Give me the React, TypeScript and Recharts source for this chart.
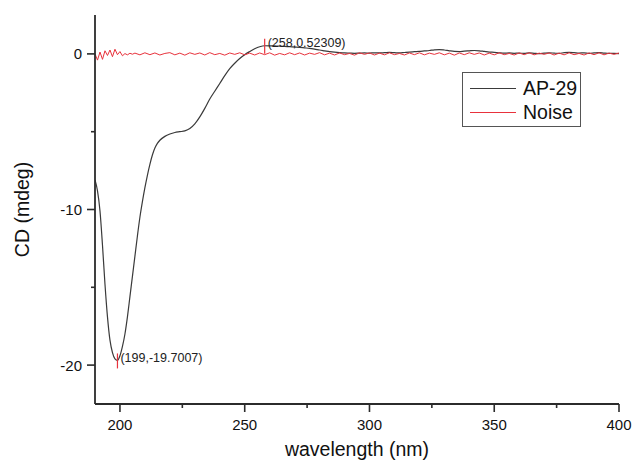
import React from 'react';
import { LineChart, Line, XAxis, YAxis, ReferenceDot, Legend } from 'recharts';

// AP-29 CD spectrum: [wavelength (nm), CD (mdeg)]
const apCurve: [number, number][] = [
  [190, -8.1], [191, -8.8], [192, -10.1], [193, -12.3], [194, -14.8], [195, -16.9], [196, -18.4],
  [197, -19.2], [198, -19.6], [199, -19.7007], [200, -19.4], [201, -18.8], [202, -18.0], [203, -16.9],
  [204, -15.6], [205, -14.3], [206, -13.0], [207, -11.7], [208, -10.5], [209, -9.5], [210, -8.6],
  [211, -7.8], [212, -7.1], [213, -6.5], [214, -6.05], [215, -5.75], [216, -5.55],
  [218, -5.3], [220, -5.15], [222, -5.05], [224, -5.0], [226, -4.95], [228, -4.8], [230, -4.5],
  [232, -4.05], [234, -3.5], [236, -2.9], [238, -2.4], [240, -1.9], [242, -1.4], [244, -0.95],
  [246, -0.6], [248, -0.3], [250, -0.05], [252, 0.15], [254, 0.33], [256, 0.46], [258, 0.52309],
  [260, 0.52], [262, 0.51], [264, 0.5], [266, 0.48], [268, 0.46], [270, 0.44], [272, 0.42],
  [274, 0.39], [276, 0.36], [278, 0.31], [280, 0.25], [282, 0.2], [284, 0.15], [286, 0.11],
  [288, 0.08], [290, 0.06], [292, 0.05], [294, 0.04], [296, 0.05], [298, 0.06], [300, 0.05],
  [302, 0.07], [304, 0.06], [306, 0.08], [308, 0.1], [310, 0.08], [312, 0.06], [314, 0.09],
  [316, 0.12], [318, 0.14], [320, 0.16], [322, 0.19], [324, 0.22], [326, 0.26], [328, 0.28],
  [330, 0.25], [332, 0.2], [334, 0.16], [336, 0.15], [338, 0.18], [340, 0.2], [342, 0.22],
  [344, 0.2], [346, 0.16], [348, 0.12], [350, 0.1], [352, 0.07], [354, 0.05], [356, 0.06],
  [358, 0.04], [360, 0.05], [362, 0.03], [364, 0.06], [366, 0.04], [368, 0.02], [370, 0.05],
  [372, 0.07], [374, 0.05], [376, 0.03], [378, 0.08], [380, 0.1], [382, 0.08], [384, 0.05],
  [386, 0.07], [388, 0.04], [390, 0.06], [392, 0.08], [394, 0.05], [396, 0.03], [398, 0.04],
  [400, 0.02],
];

// Noise baseline: [wavelength (nm), CD (mdeg)]
const noiseCurve: [number, number][] = [
  [190, 0.0], [191, -0.4], [192, 0.12], [193, -0.35], [194, 0.2], [195, -0.1], [196, 0.25],
  [197, -0.18], [198, 0.3], [199, -0.05], [200, 0.15], [201, -0.12], [202, 0.02], [203, -0.06],
  [204, 0.04], [205, -0.02],
  [206, 0.05], [208, -0.06], [210, 0.07], [212, -0.05], [214, 0.06], [216, -0.07], [218, 0.03],
  [220, 0.08], [222, -0.06], [224, 0.05], [226, -0.08], [228, 0.07], [230, -0.03], [232, 0.06],
  [234, -0.07], [236, 0.08], [238, -0.05], [240, 0.03], [242, -0.08], [244, 0.06], [246, -0.03],
  [248, 0.07], [250, -0.06], [252, 0.05], [254, -0.07], [256, 0.06], [258, -0.05], [260, 0.07],
  [262, -0.08], [264, 0.03], [266, -0.06], [268, 0.07], [270, -0.05], [272, 0.06], [274, -0.07],
  [276, 0.05], [278, -0.03], [280, 0.08], [282, -0.06], [284, 0.05], [286, -0.07], [288, 0.06],
  [290, -0.05], [292, 0.03], [294, -0.08], [296, 0.07], [298, -0.03], [300, 0.06], [302, -0.07],
  [304, 0.05], [306, -0.06], [308, 0.07], [310, -0.05], [312, 0.03], [314, -0.07], [316, 0.06],
  [318, -0.05], [320, 0.07], [322, -0.06], [324, 0.05], [326, -0.03], [328, 0.07], [330, -0.06],
  [332, 0.05], [334, -0.08], [336, 0.06], [338, -0.05], [340, 0.07], [342, -0.03], [344, 0.06],
  [346, -0.07], [348, 0.05], [350, -0.06], [352, 0.07], [354, -0.05], [356, 0.03], [358, -0.07],
  [360, 0.06], [362, -0.05], [364, 0.07], [366, -0.06], [368, 0.05], [370, -0.03], [372, 0.06],
  [374, -0.07], [376, 0.05], [378, -0.06], [380, 0.07], [382, -0.05], [384, 0.03], [386, -0.07],
  [388, 0.06], [390, -0.05], [392, 0.07], [394, -0.06], [396, 0.05], [398, -0.03], [400, 0.06],
];

const annotations = [
  { wl: 199, v: -19.7007, text: '(199,-19.7007)' },
  { wl: 258, v: 0.52309, text: '(258,0.52309)' },
];

const xTicks = [200, 225, 250, 275, 300, 325, 350, 375, 400];
const xMajor = [200, 250, 300, 350, 400];
const yTicks = [-20, -15, -10, -5, 0];
const yMajor = [-20, -10, 0];

const series = [
  { name: 'AP-29', color: '#3a3a3a', points: apCurve },
  { name: 'Noise', color: '#e8323c', points: noiseCurve },
];

const FONT = '"Liberation Sans", Arial, sans-serif';
const AXIS = '#2b2b2b';

const YTick = (props: any) => {
  const { x, y, payload } = props;
  const major = yMajor.includes(payload.value);
  return (
    <g>
      <line x1={x - (major ? 8 : 4)} x2={x} y1={y} y2={y} stroke={AXIS} strokeWidth={1.6} />
      {major && (
        <text x={x - 13} y={y + 5.5} textAnchor="end" fontSize={15} fill="#111" fontFamily={FONT}>
          {payload.value}
        </text>
      )}
    </g>
  );
};

const XTick = (props: any) => {
  const { x, y, payload } = props;
  const major = xMajor.includes(payload.value);
  return (
    <g>
      <line x1={x} x2={x} y1={y} y2={y + (major ? 8 : 4)} stroke={AXIS} strokeWidth={1.6} />
      {major && (
        <text x={x} y={y + 26} textAnchor="middle" fontSize={15} fill="#111" fontFamily={FONT}>
          {payload.value}
        </text>
      )}
    </g>
  );
};

const AnnotationShape = (text: string) => (props: any) => {
  const { cx, cy } = props;
  return (
    <g>
      <line x1={cx} x2={cx} y1={cy - 7} y2={cy + 8} stroke="#e8323c" strokeWidth={1.2} />
      <text x={cx + 3} y={cy + 1.5} fontSize={12.5} fill="#222" fontFamily={FONT}>
        {text}
      </text>
    </g>
  );
};

const LegendBox = () => (
  <div
    style={{
      border: '1.5px solid #555',
      width: 119,
      height: 55,
      boxSizing: 'border-box',
      background: '#fff',
      fontFamily: FONT,
      fontSize: 19.5,
      color: '#111',
      padding: '3px 0 0 7px',
    }}
  >
    {series.map((s) => (
      <div key={s.name} style={{ display: 'flex', alignItems: 'center', height: 24 }}>
        <div style={{ width: 46, height: 0, borderTop: `1.2px solid ${s.color}`, marginRight: 7 }} />
        <span>{s.name}</span>
      </div>
    ))}
  </div>
);

export default function App() {
  const apData = apCurve.map(([wl, v]) => ({ wl, v }));
  const noiseData = noiseCurve.map(([wl, v]) => ({ wl, v }));
  return (
    <div style={{ position: 'absolute', left: 0, top: 0, background: '#fff', fontFamily: FONT }}>
      <LineChart width={635} height={468} margin={{ top: 15, right: 16, bottom: 0, left: 0 }}>
        <XAxis
          dataKey="wl"
          type="number"
          domain={[190, 400]}
          ticks={xTicks}
          interval={0}
          allowDataOverflow
          height={64}
          tickSize={0}
          tickMargin={0}
          tickLine={false}
          axisLine={{ stroke: AXIS, strokeWidth: 1.8 }}
          tick={<XTick />}
          label={(p: any) => {
            const vb = p.viewBox;
            return (
              <text x={vb.x + vb.width / 2} y={vb.y + 52} textAnchor="middle" fontSize={19.5} fill="#111" fontFamily={FONT}>
                wavelength (nm)
              </text>
            );
          }}
        />
        <YAxis
          type="number"
          domain={[-22.5, 2.5]}
          ticks={yTicks}
          interval={0}
          allowDataOverflow
          width={95}
          tickSize={0}
          tickMargin={0}
          tickLine={false}
          axisLine={{ stroke: AXIS, strokeWidth: 1.8 }}
          tick={<YTick />}
          label={(p: any) => {
            const vb = p.viewBox;
            const cx = 22;
            const cy = vb.y + vb.height / 2;
            return (
              <text x={cx} y={cy} transform={`rotate(-90 ${cx} ${cy})`} textAnchor="middle" dominantBaseline="central" fontSize={19.5} fill="#111" fontFamily={FONT}>
                CD (mdeg)
              </text>
            );
          }}
        />
        <Line
          data={apData}
          dataKey="v"
          name={series[0].name}
          type="monotone"
          stroke={series[0].color}
          strokeWidth={1.2}
          dot={false}
          activeDot={false}
          isAnimationActive={false}
        />
        <Line
          data={noiseData}
          dataKey="v"
          name={series[1].name}
          type="linear"
          stroke={series[1].color}
          strokeWidth={1}
          dot={false}
          activeDot={false}
          isAnimationActive={false}
        />
        {annotations.map((a) => (
          <ReferenceDot key={a.text} x={a.wl} y={a.v} r={0} shape={AnnotationShape(a.text)} />
        ))}
        <Legend
          layout="horizontal"
          verticalAlign="middle"
          align="center"
          content={<LegendBox />}
          wrapperStyle={{ left: 462, top: 72, width: 119, height: 56 }}
        />
      </LineChart>
    </div>
  );
}
